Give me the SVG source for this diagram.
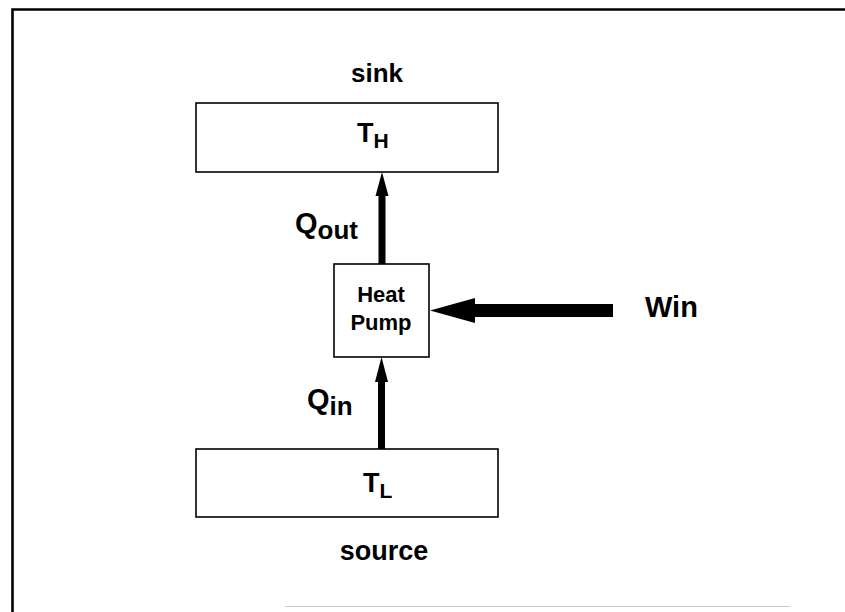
<svg xmlns="http://www.w3.org/2000/svg" width="845" height="612" viewBox="0 0 845 612">
<style>
.box{fill:#fff;stroke:#000;stroke-width:1.6}
.t{font-family:"Liberation Sans",Arial,Helvetica,sans-serif;font-weight:bold;fill:#000}
.arr{fill:#000;stroke:none}
</style>
<rect x="0" y="0" width="845" height="612" fill="#fff"/>
<g id="frame">
<path d="M12.5 612 V9.5 H845" fill="none" stroke="#000" stroke-width="2.6"/>
<path d="M285 606.5 H790" fill="none" stroke="#ccc" stroke-width="1"/>
</g>
<g id="sink">
<text class="t" x="377" y="82" font-size="26" text-anchor="middle">sink</text>
</g>
<g id="TH">
<rect class="box" x="196" y="103" width="302" height="69"/>
<text class="t" x="357" y="142" font-size="27">T<tspan font-size="21" dy="6">H</tspan></text>
</g>
<g id="heatpump">
<rect class="box" x="334" y="264" width="95" height="93"/>
<text class="t" x="381" y="302" font-size="22" text-anchor="middle">Heat</text>
<text class="t" x="381" y="330" font-size="22" text-anchor="middle">Pump</text>
</g>
<g id="TL">
<rect class="box" x="196" y="449" width="302" height="68"/>
<text class="t" x="363" y="492" font-size="27">T<tspan font-size="21" dy="6">L</tspan></text>
</g>
<g id="source">
<text class="t" x="384" y="560" font-size="27" text-anchor="middle">source</text>
</g>
<g id="win">
<text class="t" x="645" y="317" font-size="29">Win</text>
</g>
<g id="connectors">
<path class="arr" d="M378.5 264 V196 H375.5 L382 172 L388.5 196 H385.5 V264 Z"/>
<path class="arr" d="M378 449 V382 H375 L381.5 357 L388 382 H385 V449 Z"/>
<path class="arr" d="M613 304 H475 V298 L430 310.5 L475 323 V317 H613 Z"/>
<text class="t" x="295" y="233" font-size="29">Q<tspan font-size="26" dy="6">out</tspan></text>
<text class="t" x="307" y="409" font-size="29">Q<tspan font-size="26" dy="6">in</tspan></text>
</g>
</svg>
